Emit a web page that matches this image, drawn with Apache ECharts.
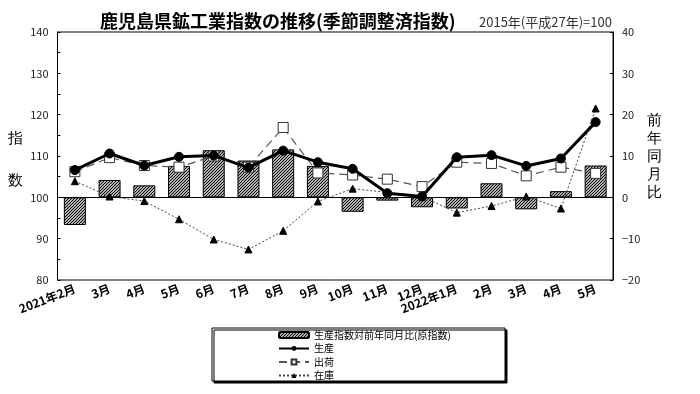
<!DOCTYPE html>
<html><head><meta charset="utf-8">
<script src="https://cdn.jsdelivr.net/npm/echarts@6/dist/echarts.min.js"></script>
<style>html,body{margin:0;padding:0;background:#fff}#c{width:700px;height:394px}</style>
</head><body><div id="c"></div>
<script>
const categories = ['2021年2月','3月','4月','5月','6月','7月','8月','9月','10月','11月','12月','2022年1月','2月','3月','4月','5月'];
const yoyProduction = [-6.7,4.2,2.9,7.6,11.4,8.9,11.6,7.6,-3.5,-0.8,-2.4,-2.7,3.4,-2.9,1.5,7.7];
const production = [106.6,110.6,107.7,109.8,110.1,107.2,111.3,108.5,106.9,101.0,100.2,109.7,110.2,107.6,109.4,118.2];
const shipments = [106.2,109.6,107.7,107.3,110.0,107.3,116.9,105.9,105.4,104.4,102.6,108.5,108.2,105.2,107.3,105.8];
const inventory = [103.9,100.2,99.1,94.7,89.8,87.4,91.9,99.0,102.1,101.2,100.2,96.3,97.9,100.2,97.3,121.5];
const leftAxis = {min:80, max:140, interval:10};
const rightAxis = {min:-20, max:40, interval:10};
const baseLine = 100;

const names = ['生産指数対前年同月比(原指数)','生産','出荷','在庫'];

// hatch pattern
const pc = document.createElement('canvas');
pc.width = 3; pc.height = 3;
const g = pc.getContext('2d');
g.fillStyle = '#fff'; g.fillRect(0,0,3,3);
g.strokeStyle = '#000'; g.lineWidth = 1.2;
g.beginPath();
g.moveTo(0,3); g.lineTo(3,0);
g.moveTo(-1,1); g.lineTo(1,-1);
g.moveTo(2,4); g.lineTo(4,2);
g.stroke();
const hatch = {image: pc, repeat: 'repeat'};

const chart = echarts.init(document.getElementById('c'), null, {renderer:'canvas'});
const font = '"Noto Sans CJK JP", "Noto Sans", sans-serif';
chart.setOption({
  animation: false,
  backgroundColor: '#fff',
  textStyle: {fontFamily: font},
  title: [
    {text: '鹿児島県鉱工業指数の推移(季節調整済指数)', left: 95, top: 7,
     textStyle: {fontSize: 18, fontWeight: 'bold', color: '#000', fontFamily: font}},
    {text: '2015年(平成27年)=100', left: 474, top: 11,
     textStyle: {fontSize: 13, fontWeight: 'normal', color: '#333', fontFamily: font}}
  ],
  grid: {left: 57.5, right: 87, top: 32, bottom: 114, show: true, borderColor: '#000', borderWidth: 1, backgroundColor: 'transparent'},
  legend: {
    orient: 'vertical', left: 278, top: 329, itemGap: 1.5, padding: 0,
    itemWidth: 30, itemHeight: 6,
    textStyle: {fontSize: 10, color: '#000', lineHeight: 12},
    data: names
  },
  graphic: [
    {type: 'rect', shape: {x: 212, y: 328, width: 293, height: 53}, style: {fill: '#fff', stroke: '#000', lineWidth: 1, shadowColor: '#000', shadowOffsetX: 2, shadowOffsetY: 2, shadowBlur: 0}, z: -1},
    {type: 'text', left: 8, top: 128, style: {text: '指\n\n数', fontSize: 15, lineHeight: 21, fill: '#000', font: '15px ' + font}},
    {type: 'text', left: 647, top: 112, style: {text: '前\n年\n同\n月\n比', fontSize: 15, lineHeight: 18, fill: '#000', font: '15px ' + font}}
  ],
  xAxis: {
    type: 'category', data: categories,
    axisLine: {lineStyle: {color: '#000'}},
    axisTick: {show: false},
    axisLabel: {rotate: 21, fontSize: 12, color: '#000', margin: 8, interval: 0, fontWeight: 'bold'}
  },
  yAxis: [
    {type: 'value', min: leftAxis.min, max: leftAxis.max, interval: leftAxis.interval,
     axisLine: {show: true, lineStyle: {color: '#000'}},
     axisTick: {show: true, inside: true, length: 3, lineStyle: {color: '#000'}},
     minorTick: {show: true, splitNumber: 2, length: 3, lineStyle: {color: '#000'}},
     splitLine: {show: false},
     axisLabel: {fontSize: 11, color: '#222', margin: 9}},
    {type: 'value', min: rightAxis.min, max: rightAxis.max, interval: rightAxis.interval,
     axisLine: {show: true, lineStyle: {color: '#000'}},
     axisTick: {show: true, inside: true, length: 3, lineStyle: {color: '#000'}},
     splitLine: {show: false},
     axisLabel: {fontSize: 11, color: '#222', margin: 9, formatter: v => String(v).replace('-', '−')}}
  ],
  series: [
    {name: names[0], type: 'bar', yAxisIndex: 1, data: yoyProduction, barWidth: 22,
     itemStyle: {color: hatch, borderColor: '#000', borderWidth: 1}, z: 1},
    {name: names[1], type: 'line', yAxisIndex: 0, data: production,
     symbol: 'circle', symbolSize: 9,
     lineStyle: {color: '#000', width: 3},
     itemStyle: {color: '#000', borderColor: '#000'}, z: 5,
     markLine: {silent: true, symbol: 'none', label: {show: false},
       lineStyle: {color: '#000', width: 1, type: 'solid'}, data: [{yAxis: baseLine}]}},
    {name: names[2], type: 'line', yAxisIndex: 0, data: shipments,
     symbol: 'rect', symbolSize: 10,
     lineStyle: {color: '#555', width: 1.2, type: [8, 5]},
     itemStyle: {color: '#fff', borderColor: '#333', borderWidth: 1}, z: 4},
    {name: names[3], type: 'line', yAxisIndex: 0, data: inventory,
     symbol: 'triangle', symbolSize: 7,
     lineStyle: {color: '#444', width: 1, type: [2, 2]},
     itemStyle: {color: '#000', borderColor: '#000'}, z: 3}
  ]
});
</script>
</body></html>
